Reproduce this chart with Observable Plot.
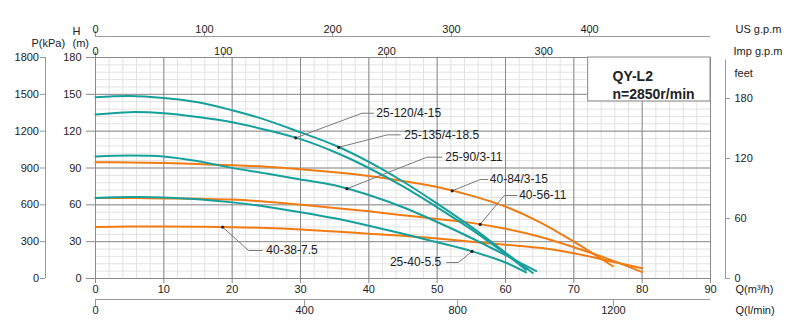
<!DOCTYPE html>
<html><head><meta charset="utf-8">
<script src="https://cdn.jsdelivr.net/npm/d3@7"></script>
<script src="https://cdn.jsdelivr.net/npm/@observablehq/plot@0.6"></script>
<style>body{margin:0;background:#fff}#chart{width:800px;height:330px}</style>
</head><body><div id="chart"></div>
<script>
// ---- axis tick data ----
const qTicks = [0,10,20,30,40,50,60,70,80,90];
const hTicks = [0,30,60,90,120,150,180];
const pTicks = [0,300,600,900,1200,1500,1800];
const feetTicks = [0,60,120,180];
const feetAtH = [0,48.9,97.7,146.6];
const usGpmTicks = [0,100,200,300,400];
const usGpmAtQ = [0,15.95,34.7,52.1,72.3];
const impGpmTicks = [0,100,200,300];
const impGpmAtQ = [0,18.7,42.6,65.6];
const lminTicks = [0,400,800,1200];
const lminAtQ = [0,30.6,53,75.8];

// ---- series (Q m3/h, H m) ----
const q_25_135 = [0,5,10,15,20,25,30,35,40,45,50,55,60,64];
const h_25_135 = [147.6,148.7,147,143.5,137,129,119,108.5,95,79,61,42,21,4.5];
const q_25_120 = [0,5,10,15,20,25,30,35,40,45,50,55,60,63];
const h_25_120 = [133.6,135.5,134.6,131.5,127.3,121,113.5,103,90,75,58,40,20,7];
const q_25_90 = [0,5,10,15,20,25,30,35,40,45,50,55,60,64.5];
const h_25_90 = [99.4,100.2,99.4,95.5,90.1,85.5,80.6,76,68,58,46,33,19,6];
const q_25_40 = [0,5,10,15,20,25,30,35,40,45,50,55,60,63];
const h_25_40 = [65.5,66.3,66,64.5,62,58.5,54,49,43,36.5,29.5,22.3,13,5];
const q_40_84 = [0,5,10,15,20,25,30,35,40,45,50,55,60,65,70,75.7];
const h_40_84 = [94.7,94.5,94,93.2,92.3,91,89,86.5,83.5,79.5,74.5,67.5,58.5,46,30,10];
const q_40_56 = [0,5,10,15,20,25,30,35,40,45,50,55,60,65,70,75,80];
const h_40_56 = [65.5,65.5,65.2,64.9,64.3,62.5,60,57.5,54.7,51.5,48.5,45.3,40.5,34,25.5,16,5.2];
const q_40_38 = [0,5,10,15,20,25,30,35,40,45,50,55,60,65,70,75,80];
const h_40_38 = [42,42.3,42.3,42.1,41.8,41.2,40,38.3,36.5,34.8,32.5,30,27.5,25,20.5,14.5,8.4];

const names  = ["25-135/4-18.5","25-120/4-15","25-90/3-11","25-40-5.5","40-84/3-15","40-56-11","40-38-7.5"];
const groups = ["teal","teal","teal","teal","orange","orange","orange"];
const qs = [q_25_135,q_25_120,q_25_90,q_25_40,q_40_84,q_40_56,q_40_38];
const hs = [h_25_135,h_25_120,h_25_90,h_25_40,h_40_84,h_40_56,h_40_38];

// label annotations: dot Q on curve, elbow (Q,H), end of horizontal stroke Q, text Q
const labelName = ["25-120/4-15","25-135/4-18.5","25-90/3-11","40-84/3-15","40-56-11","40-38-7.5","25-40-5.5"];
const labelDotQ = [29.3,35.6,36.8,52.2,56.3,18.6,55.1];
const labelElbowQ = [39.0,42.7,48.5,56.3,59.8,22.4,53.1];
const labelElbowH = [134.6,117,98.8,80.6,67.6,22.8,13];
const labelEndQ = [40.7,44.6,50.7,57.4,61.7,24.4,51.4];
const labelTextQ = [41.1,45.2,51.2,57.7,62.0,25.0,50.6];
const labelAnchor = ["start","start","start","start","start","start","end"];

const rows = names.flatMap((n,i)=>qs[i].map((q,j)=>({name:n, group:groups[i], q, h:hs[i][j]})));
function interp(n, q){
  const i = names.indexOf(n); const xs = qs[i], ys = hs[i];
  for (let k=1;k<xs.length;k++) if (q<=xs[k]) { const t=(q-xs[k-1])/(xs[k]-xs[k-1]); return ys[k-1]+t*(ys[k]-ys[k-1]); }
  return ys[ys.length-1];
}
const labels = labelName.map((n,i)=>({name:n, dq:labelDotQ[i], dh:interp(n,labelDotQ[i]), eq:labelElbowQ[i], eh:labelElbowH[i], endq:labelEndQ[i], tq:labelTextQ[i], anchor:labelAnchor[i]}));
const leaderPts = labels.flatMap(l=>[{name:l.name,q:l.dq,h:l.dh},{name:l.name,q:l.eq,h:l.eh},{name:l.name,q:l.endq,h:l.eh}]);

const TEAL = "#16a09c", ORANGE = "#f27b12";
const txt = "#222";
const minorQ = d3.range(0,91,2), minorH = d3.range(0,181,6);
const us = usGpmTicks.map((t,i)=>({t:String(t), q:usGpmAtQ[i]}));
const imp = impGpmTicks.map((t,i)=>({t:String(t), q:impGpmAtQ[i]}));
const lmin = lminTicks.map((t,i)=>({t:String(t), q:lminAtQ[i]}));
const pk = pTicks.map((t,i)=>({t:String(t), h:hTicks[i]}));
const ft = feetTicks.map((t,i)=>({t:String(t), h:feetAtH[i]}));

const chart = Plot.plot({
  width: 800, height: 330,
  marginLeft: 95, marginRight: 90, marginTop: 57, marginBottom: 52,
  style: {fontFamily: "Liberation Sans, Arial, sans-serif", fontSize: "11px", color: txt, background: "#fff"},
  x: {domain: [0,90], axis: null},
  y: {domain: [0,180], axis: null},
  marks: [
    Plot.ruleX(minorQ, {stroke: "#e2e2e2"}),
    Plot.ruleY(minorH, {stroke: "#e2e2e2"}),
    Plot.ruleX(qTicks, {stroke: "#8a8a8a"}),
    Plot.ruleY(hTicks, {stroke: "#8a8a8a"}),
    // title box
    Plot.rect([0], {x1: 72.1, x2: 90, y1: 144.2, y2: 180, fill: "#fff", stroke: "#8a8a8a"}),
    Plot.text(["QY-L2"], {frameAnchor: "top-right", dx: -98, dy: 14, textAnchor: "start", fontWeight: "bold", fontSize: 14, fill: txt}),
    Plot.text(["n=2850r/min"], {frameAnchor: "top-right", dx: -98, dy: 32, textAnchor: "start", fontWeight: "bold", fontSize: 14, fill: txt}),
    // curves
    Plot.line(rows.filter(d=>d.group==="orange"), {x: "q", y: "h", z: "name", stroke: ORANGE, strokeWidth: 2, curve: "catmull-rom"}),
    Plot.line(rows.filter(d=>d.group==="teal"), {x: "q", y: "h", z: "name", stroke: TEAL, strokeWidth: 2, curve: "catmull-rom"}),
    // leaders
    Plot.line(leaderPts, {x: "q", y: "h", z: "name", stroke: "#7a7a7a", strokeWidth: 1}),
    Plot.dot(labels, {x: "dq", y: "dh", r: 1.6, fill: "#222"}),
    Plot.text(labels.filter(d=>d.anchor==="start"), {x: "tq", y: "eh", text: "name", textAnchor: "start", fontSize: 12, fill: txt}),
    Plot.text(labels.filter(d=>d.anchor==="end"), {x: "tq", y: "eh", text: "name", textAnchor: "end", fontSize: 12, fill: txt}),
    // H axis (left)
    Plot.tickY(hTicks, {y: d=>d, insetRight: 606, dx: -9, stroke: "#8a8a8a"}),
    Plot.text(hTicks, {y: d=>d, text: d=>String(d), frameAnchor: "left", dx: -14, textAnchor: "end", fill: txt}),
    Plot.text(["H"], {frameAnchor: "top-left", dx: -23, dy: -30, fill: txt}),
    Plot.text(["(m)"], {frameAnchor: "top-left", dx: -23, dy: -18, fill: txt}),
    // P axis
    Plot.ruleX([0], {y1: 0, y2: 180, dx: -50, stroke: "#999"}),
    Plot.tickY(pk, {y: "h", insetRight: 610, dx: -55, stroke: "#999"}),
    Plot.text(pk, {y: "h", text: "t", frameAnchor: "left", dx: -56.5, textAnchor: "end", fill: txt}),
    Plot.text(["P(kPa)"], {frameAnchor: "top-left", dx: -64, dy: -18, fill: txt}),
    // feet axis
    Plot.ruleX([90], {y1: 0, y2: 178, dx: 15, stroke: "#999"}),
    Plot.tickY(ft, {y: "h", insetLeft: 610, dx: 20, stroke: "#999"}),
    Plot.text(ft, {y: "h", text: "t", frameAnchor: "right", dx: 24, textAnchor: "start", fill: txt}),
    Plot.text(["feet"], {frameAnchor: "top-right", dx: 24, dy: 12, textAnchor: "start", fill: txt}),
    // Q m3/h axis (bottom)
    Plot.tickX(qTicks, {x: d=>d, insetTop: 216, dy: 5, stroke: "#8a8a8a"}),
    Plot.text(qTicks, {x: d=>d, text: d=>String(d), frameAnchor: "bottom", dy: 14, fill: txt}),
    Plot.text(["Q(m³/h)"], {frameAnchor: "bottom-right", dx: 25, dy: 14, textAnchor: "start", fill: txt}),
    // l/min axis
    Plot.ruleY([0], {x1: 0, x2: 90, dy: 21, stroke: "#999"}),
    Plot.tickX(lmin, {x: "q", insetTop: 214, dy: 28, stroke: "#999"}),
    Plot.text(lmin, {x: "q", text: "t", frameAnchor: "bottom", dy: 35, fill: txt}),
    Plot.text(["Q(l/min)"], {frameAnchor: "bottom-right", dx: 25, dy: 35, textAnchor: "start", fill: txt}),
    // US gpm axis (top)
    Plot.ruleY([180], {x1: 0, x2: 90, dy: -21, stroke: "#999"}),
    Plot.tickX(us, {x: "q", insetBottom: 216, dy: -26, stroke: "#999"}),
    Plot.text(us, {x: "q", text: "t", frameAnchor: "top", dy: -32, fill: txt}),
    Plot.text(["US g.p.m"], {frameAnchor: "top-right", dx: 25, dy: -32, textAnchor: "start", fill: txt}),
    // Imp gpm axis
    Plot.tickX(imp, {x: "q", insetBottom: 216, dy: -5, stroke: "#999"}),
    Plot.text(imp, {x: "q", text: "t", frameAnchor: "top", dy: -10, fill: txt}),
    Plot.text(["Imp g.p.m"], {frameAnchor: "top-right", dx: 23, dy: -10, textAnchor: "start", fill: txt})
  ]
});
document.getElementById("chart").appendChild(chart);
</script>
</body></html>
